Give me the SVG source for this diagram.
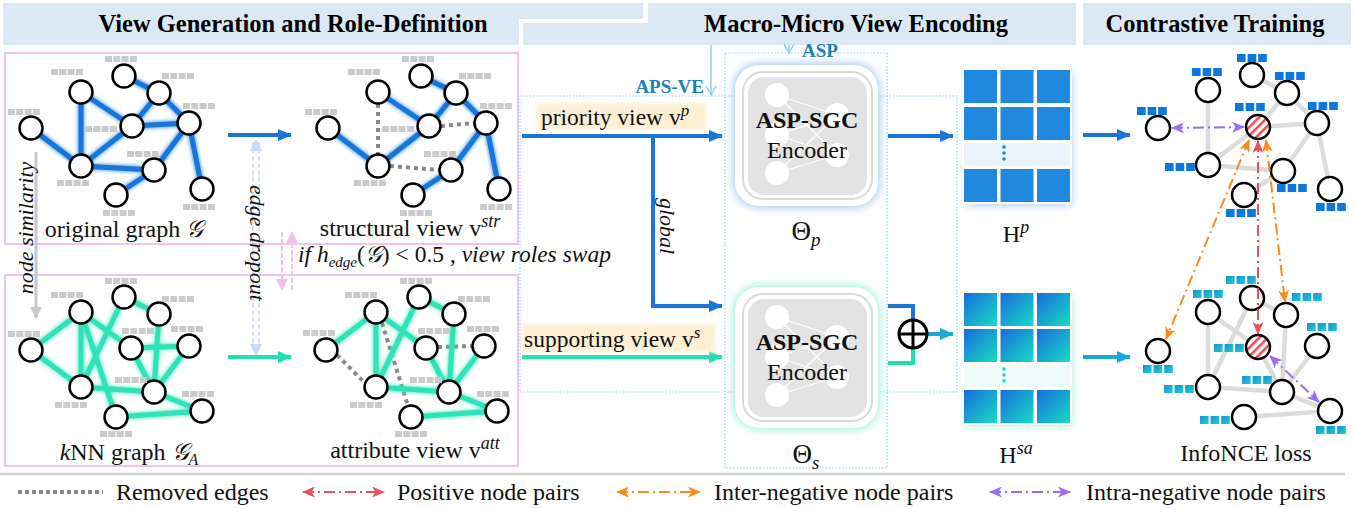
<svg xmlns="http://www.w3.org/2000/svg" width="1354" height="508" viewBox="0 0 1354 508">
<defs>
<style>
text{font-family:"Liberation Serif","Times New Roman",serif;fill:#111}
.hdr{font-size:24.5px;font-weight:bold;text-anchor:middle;fill:#000}
.lbl{font-size:24px;text-anchor:middle}
.leg{font-size:24px}
.it{font-style:italic}
.node{fill:#fff;stroke:#000;stroke-width:2.5}
.eb{stroke:#1976d9;stroke-width:5;stroke-linecap:round;fill:none}
.et{stroke:#2ee3b8;stroke-width:5;stroke-linecap:round;fill:none}
.rm{stroke:#8a8a8a;stroke-width:4;stroke-dasharray:4 4;fill:none}
.eg{stroke:#dcdcdc;stroke-width:4.5;fill:none}
.tag{fill:#cbcbcb}
.tagb{fill:#0a78df}
.panel{fill:none;stroke:#ebc6e8;stroke-width:2}
.dot{fill:none;stroke:#8dd0f0;stroke-width:1.2;stroke-dasharray:1.5 1.8}
.pr{stroke:#e8505b;stroke-width:2;fill:none;stroke-dasharray:11 4 2 4}
.po{stroke:#ff8a1c;stroke-width:2;fill:none;stroke-dasharray:11 4 2 4}
.pp{stroke:#9b6cf5;stroke-width:2;fill:none;stroke-dasharray:11 4 2 4}
</style>
<filter id="glow" x="-10%" y="-10%" width="120%" height="120%"><feGaussianBlur in="SourceGraphic" stdDeviation="2.2" result="b"/><feMerge><feMergeNode in="b"/><feMergeNode in="SourceGraphic"/></feMerge></filter>
<filter id="blur4" x="-20%" y="-20%" width="140%" height="140%"><feGaussianBlur stdDeviation="4"/></filter>
<filter id="blur2" x="-10%" y="-30%" width="120%" height="160%"><feGaussianBlur stdDeviation="2"/></filter>
<pattern id="hatch" width="6" height="6" patternUnits="userSpaceOnUse" patternTransform="rotate(45)"><rect width="6" height="6" fill="#fff"/><rect width="2.6" height="6" fill="#e8505b"/></pattern>
<linearGradient id="gs" x1="0" y1="0" x2="1" y2="1"><stop offset="0" stop-color="#1a6cdc"/><stop offset="1" stop-color="#16dcc2"/></linearGradient>
<linearGradient id="gt" x1="0" y1="0" x2="1" y2="1"><stop offset="0" stop-color="#1b8fdc"/><stop offset="1" stop-color="#1ad0c8"/></linearGradient>
<g id="tag4" class="tag"><rect x="0" y="0" width="7" height="6"/><rect x="8.3" y="0" width="7" height="6"/><rect x="16.6" y="0" width="7" height="6"/><rect x="24.9" y="0" width="7" height="6"/></g>
<g id="tag3b" class="tagb"><rect x="0" y="0" width="8.6" height="8"/><rect x="10.6" y="0" width="8.6" height="8"/><rect x="21.2" y="0" width="8.6" height="8"/></g>
<g id="tag3g" fill="url(#gt)"><rect x="0" y="0" width="8.6" height="8"/><rect x="10.6" y="0" width="8.6" height="8"/><rect x="21.2" y="0" width="8.6" height="8"/></g>
<marker id="aB" markerUnits="userSpaceOnUse" markerWidth="14" markerHeight="12" refX="13" refY="6" orient="auto"><path d="M0,0 L14,6 L0,12 z" fill="#1976d9"/></marker>
<marker id="aT" markerUnits="userSpaceOnUse" markerWidth="14" markerHeight="12" refX="13" refY="6" orient="auto"><path d="M0,0 L14,6 L0,12 z" fill="#20e0b2"/></marker>
<marker id="aC" markerUnits="userSpaceOnUse" markerWidth="14" markerHeight="12" refX="13" refY="6" orient="auto"><path d="M0,0 L14,6 L0,12 z" fill="#1aaad8"/></marker>
<marker id="pR" markerUnits="userSpaceOnUse" markerWidth="13" markerHeight="11" refX="12" refY="5.5" orient="auto-start-reverse"><path d="M0,0 L13,5.5 L0,11 L3.5,5.5 z" fill="#e8505b"/></marker>
<marker id="pO" markerUnits="userSpaceOnUse" markerWidth="13" markerHeight="11" refX="12" refY="5.5" orient="auto-start-reverse"><path d="M0,0 L13,5.5 L0,11 L3.5,5.5 z" fill="#ff8a1c"/></marker>
<marker id="pP" markerUnits="userSpaceOnUse" markerWidth="13" markerHeight="11" refX="12" refY="5.5" orient="auto-start-reverse"><path d="M0,0 L13,5.5 L0,11 L3.5,5.5 z" fill="#9b6cf5"/></marker>
<marker id="chev" markerUnits="userSpaceOnUse" markerWidth="12" markerHeight="12" refX="10" refY="6" orient="auto"><path d="M1,1 L10,6 L1,11" fill="none" stroke="#8dcff0" stroke-width="1.5"/></marker>
<marker id="aPb" markerUnits="userSpaceOnUse" markerWidth="12" markerHeight="12" refX="11" refY="6" orient="auto"><path d="M0,0 L12,6 L0,12 z" fill="#c6dcf2"/></marker>
<marker id="aPk" markerUnits="userSpaceOnUse" markerWidth="12" markerHeight="12" refX="11" refY="6" orient="auto"><path d="M0,0 L12,6 L0,12 z" fill="#f0c3ec"/></marker>
<marker id="aGr" markerUnits="userSpaceOnUse" markerWidth="12" markerHeight="12" refX="11" refY="6" orient="auto"><path d="M0,0 L12,6 L0,12 z" fill="#c8c8c8"/></marker>
</defs>

<rect width="1354" height="508" fill="#fff"/>

<!-- headers -->
<g id="headers">
<path d="M3,3 H643 V19 H519 V45 H3 Z" fill="#dce9f5"/>
<path d="M648,3 H1076 V45 H523 V23 H648 Z" fill="#dce9f5"/>
<rect x="1083" y="3" width="268" height="42" fill="#dce9f5"/>
<text class="hdr" x="293" y="32">View Generation and Role-Definition</text>
<text class="hdr" x="856" y="32">Macro-Micro View Encoding</text>
<text class="hdr" x="1215" y="32">Contrastive Training</text>
</g>

<!-- panels -->
<g id="panels">
<rect class="panel" x="5" y="53" width="513" height="191"/>
<rect class="panel" x="5" y="275" width="513" height="191"/>
<line x1="0" y1="474" x2="1345" y2="474" stroke="#cfcfcf" stroke-width="2.5"/>
</g>

<!-- original graph -->
<g id="original-graph">
<g filter="url(#glow)">
<path class="eb" d="M31,128 L81,166 M81,92 L81,166 M81,92 L132,126 M124,76 L159,93 M159,93 L132,126 M159,93 L189,123 M132,126 L189,123 M132,126 L81,166 M81,166 L154,170 M154,170 L189,123 M154,170 L116,195 M189,123 L202,189"/>
</g>
<g>
<circle class="node" cx="31" cy="128" r="11.5"/><circle class="node" cx="81" cy="92" r="11.5"/><circle class="node" cx="124" cy="76" r="11.5"/><circle class="node" cx="159" cy="93" r="11.5"/><circle class="node" cx="132" cy="126" r="11.5"/><circle class="node" cx="189" cy="123" r="11.5"/><circle class="node" cx="81" cy="166" r="11.5"/><circle class="node" cx="154" cy="170" r="11.5"/><circle class="node" cx="116" cy="195" r="11.5"/><circle class="node" cx="202" cy="189" r="11.5"/>
</g>
<use href="#tag4" x="8" y="109"/><use href="#tag4" x="51" y="69"/><use href="#tag4" x="105" y="56"/><use href="#tag4" x="162" y="73"/><use href="#tag4" x="183" y="103"/><use href="#tag4" x="85" y="126"/><use href="#tag4" x="127" y="151"/><use href="#tag4" x="57" y="180"/><use href="#tag4" x="103" y="210"/><use href="#tag4" x="183" y="204"/>
<text class="lbl" x="124" y="237">original graph <tspan class="it">𝒢</tspan></text>
</g>

<!-- structural view -->
<g id="structural-view">
<path class="rm" d="M378,104 L378,154 M441,126 L474,123 M390,166 L439,170"/>
<g filter="url(#glow)">
<path class="eb" d="M328,128 L378,166 M378,92 L429,126 M421,76 L456,93 M456,93 L429,126 M456,93 L486,123 M429,126 L378,166 M451,170 L486,123 M451,170 L413,195 M486,123 L499,189"/>
</g>
<g>
<circle class="node" cx="328" cy="128" r="11.5"/><circle class="node" cx="378" cy="92" r="11.5"/><circle class="node" cx="421" cy="76" r="11.5"/><circle class="node" cx="456" cy="93" r="11.5"/><circle class="node" cx="429" cy="126" r="11.5"/><circle class="node" cx="486" cy="123" r="11.5"/><circle class="node" cx="378" cy="166" r="11.5"/><circle class="node" cx="451" cy="170" r="11.5"/><circle class="node" cx="413" cy="195" r="11.5"/><circle class="node" cx="499" cy="189" r="11.5"/>
</g>
<use href="#tag4" x="305" y="109"/><use href="#tag4" x="348" y="69"/><use href="#tag4" x="402" y="56"/><use href="#tag4" x="459" y="73"/><use href="#tag4" x="480" y="103"/><use href="#tag4" x="382" y="126"/><use href="#tag4" x="424" y="151"/><use href="#tag4" x="354" y="180"/><use href="#tag4" x="400" y="210"/><use href="#tag4" x="480" y="204"/>
<text class="lbl" x="410" y="236" font-size="25">structural view v<tspan class="it" font-size="18" dy="-9">str</tspan></text>
</g>

<!-- kNN graph -->
<g id="knn-graph">
<g filter="url(#glow)">
<path class="et" d="M31,350 L81,312 M31,350 L81,387 M81,312 L81,387 M81,312 L131,348 M81,312 L116,417 M124,297 L81,387 M124,297 L159,314 M159,314 L154,392 M131,348 L189,346 M131,348 L154,392 M189,346 L154,392 M81,387 L154,392 M154,392 L202,411 M116,417 L202,411"/>
</g>
<g>
<circle class="node" cx="31" cy="350" r="11.5"/><circle class="node" cx="81" cy="312" r="11.5"/><circle class="node" cx="124" cy="297" r="11.5"/><circle class="node" cx="159" cy="314" r="11.5"/><circle class="node" cx="131" cy="348" r="11.5"/><circle class="node" cx="189" cy="346" r="11.5"/><circle class="node" cx="81" cy="387" r="11.5"/><circle class="node" cx="154" cy="392" r="11.5"/><circle class="node" cx="116" cy="417" r="11.5"/><circle class="node" cx="202" cy="411" r="11.5"/>
</g>
<use href="#tag4" x="8" y="331"/><use href="#tag4" x="51" y="292"/><use href="#tag4" x="105" y="278"/><use href="#tag4" x="162" y="296"/><use href="#tag4" x="122" y="328"/><use href="#tag4" x="171" y="326"/><use href="#tag4" x="115" y="377"/><use href="#tag4" x="55" y="402"/><use href="#tag4" x="100" y="431"/><use href="#tag4" x="182" y="391"/>
<text class="lbl" x="129" y="460"><tspan class="it">k</tspan>NN graph <tspan class="it">𝒢</tspan><tspan class="it" font-size="16" dy="5">A</tspan></text>
</g>

<!-- attribute view -->
<g id="attribute-view">
<path class="rm" d="M337,355 L365,383 M382,323 L408,406 M438,347 L472,346"/>
<g filter="url(#glow)">
<path class="et" d="M326,350 L376,312 M376,312 L376,387 M376,312 L426,348 M419,297 L376,387 M419,297 L454,314 M454,314 L449,392 M426,348 L449,392 M484,346 L449,392 M376,387 L449,392 M449,392 L497,411 M411,417 L497,411"/>
</g>
<g>
<circle class="node" cx="326" cy="350" r="11.5"/><circle class="node" cx="376" cy="312" r="11.5"/><circle class="node" cx="419" cy="297" r="11.5"/><circle class="node" cx="454" cy="314" r="11.5"/><circle class="node" cx="426" cy="348" r="11.5"/><circle class="node" cx="484" cy="346" r="11.5"/><circle class="node" cx="376" cy="387" r="11.5"/><circle class="node" cx="449" cy="392" r="11.5"/><circle class="node" cx="411" cy="417" r="11.5"/><circle class="node" cx="497" cy="411" r="11.5"/>
</g>
<use href="#tag4" x="303" y="330"/><use href="#tag4" x="345" y="292"/><use href="#tag4" x="400" y="278"/><use href="#tag4" x="458" y="296"/><use href="#tag4" x="418" y="328"/><use href="#tag4" x="467" y="326"/><use href="#tag4" x="410" y="377"/><use href="#tag4" x="350" y="402"/><use href="#tag4" x="395" y="431"/><use href="#tag4" x="477" y="391"/>
<text class="lbl" x="415" y="458" font-size="25">attribute view v<tspan class="it" font-size="18" dy="-9">att</tspan></text>
</g>

<!-- left-side annotations -->
<g id="annotations">
<line x1="36" y1="152" x2="36" y2="318" stroke="#c8c8c8" stroke-width="3" marker-end="url(#aGr)"/>
<text class="it" font-size="22" transform="translate(25,228) rotate(-90)" text-anchor="middle" dominant-baseline="central">node similarity</text>
<line x1="253" y1="350" x2="253" y2="141" stroke="#c6dcf2" stroke-width="1.5" stroke-dasharray="5 2"/>
<line x1="259" y1="350" x2="259" y2="141" stroke="#c6dcf2" stroke-width="1.5" stroke-dasharray="5 2"/>
<line x1="256" y1="160" x2="256" y2="140" stroke="#c6dcf2" stroke-width="0.1" marker-end="url(#aPb)"/>
<line x1="256" y1="335" x2="256" y2="355" stroke="#c6dcf2" stroke-width="0.1" marker-end="url(#aPb)"/>
<text class="it" font-size="22" transform="translate(257,243) rotate(90)" text-anchor="middle" dominant-baseline="central">edge dropout</text>
<line x1="292" y1="290" x2="292" y2="232" stroke="#f0c3ec" stroke-width="2" stroke-dasharray="5 2" marker-end="url(#aPk)"/>
<line x1="282" y1="232" x2="282" y2="290" stroke="#f0c3ec" stroke-width="2" stroke-dasharray="5 2" marker-end="url(#aPk)"/>
<text font-size="23.5" x="298" y="262"><tspan class="it">if </tspan><tspan class="it">h</tspan><tspan class="it" font-size="15" dy="5">edge</tspan><tspan dy="-5">(</tspan><tspan class="it">𝒢</tspan>) &lt; 0.5 , <tspan class="it">view roles swap</tspan></text>
</g>

<!-- connectors -->
<g id="connectors">
<line x1="228" y1="135" x2="291" y2="135" stroke="#1976d9" stroke-width="4" marker-end="url(#aB)"/>
<line x1="228" y1="357" x2="291" y2="357" stroke="#20e0b2" stroke-width="4" marker-end="url(#aT)"/>
<line x1="522" y1="136" x2="722" y2="136" stroke="#1976d9" stroke-width="4" marker-end="url(#aB)"/>
<path d="M653,136 V306 H722" fill="none" stroke="#1976d9" stroke-width="4" marker-end="url(#aB)"/>
<line x1="522" y1="357" x2="722" y2="357" stroke="#20e0b2" stroke-width="4" marker-end="url(#aT)"/>
<line x1="888" y1="136" x2="953" y2="136" stroke="#1976d9" stroke-width="4" marker-end="url(#aB)"/>
<path d="M888,306 H913 V320" fill="none" stroke="#1976d9" stroke-width="4"/>
<path d="M888,363 H913 V348" fill="none" stroke="#20e0b2" stroke-width="4"/>
<line x1="927" y1="334" x2="953" y2="334" stroke="#1aaad8" stroke-width="4" marker-end="url(#aC)"/>
<line x1="1083" y1="135" x2="1130" y2="135" stroke="#1976d9" stroke-width="4" marker-end="url(#aB)"/>
<line x1="1083" y1="357" x2="1130" y2="357" stroke="#1aaad8" stroke-width="4" marker-end="url(#aC)"/>
<line x1="711" y1="45" x2="711" y2="95" stroke="#8dcff0" stroke-width="1.5" marker-end="url(#chev)"/>
<line x1="789" y1="45" x2="789" y2="53" stroke="#8dcff0" stroke-width="1.5" marker-end="url(#chev)"/>
</g>

<!-- middle: view labels and boxes -->
<g id="aps-ve">
<rect class="dot" x="520" y="96" width="437" height="296"/>
<text x="704" y="93" font-size="19" font-weight="bold" text-anchor="end" style="fill:#1a80b5">APS-VE</text>
</g>
<g id="asp">
<rect class="dot" x="725" y="53" width="162" height="415"/>
<text x="802" y="57" font-size="19" font-weight="bold" style="fill:#1a80b5">ASP</text>
</g>
<g id="priority-view">
<rect x="537" y="103" width="170" height="27" fill="#fcefd4" filter="url(#blur2)"/>
<text font-size="23.5" x="541" y="125">priority view v<tspan class="it" font-size="17" dy="-9">p</tspan></text>
</g>
<g id="supporting-view">
<rect x="522" y="324" width="193" height="28" fill="#fcefd4" filter="url(#blur2)"/>
<text font-size="23.5" x="524" y="347">supporting view v<tspan class="it" font-size="17" dy="-9">s</tspan></text>
</g>
<text class="it" font-size="22" transform="translate(667,226) rotate(90)" text-anchor="middle" dominant-baseline="central">global</text>

<!-- encoder p -->
<g id="encoder-p">
<rect x="733" y="63" width="147" height="145" rx="26" fill="#a9cdf3" filter="url(#blur4)"/>
<rect x="735" y="65" width="143" height="141" rx="24" fill="#fff"/>
<rect x="743" y="72" width="129" height="127" rx="20" fill="none" stroke="#dadada" stroke-width="2"/>
<rect x="748" y="77" width="119" height="118" rx="16" fill="#e3e3e3"/>
<path d="M777,95 L837,115 M777,95 L837,155 M777,135 L837,115 M777,135 L837,155 M777,173 L837,115 M777,173 L837,155" stroke="#fff" stroke-width="1.3"/>
<circle cx="777" cy="95" r="12" fill="#fff"/><circle cx="777" cy="135" r="12" fill="#fff"/><circle cx="777" cy="173" r="12" fill="#fff"/><circle cx="837" cy="115" r="12" fill="#fff"/><circle cx="837" cy="155" r="12" fill="#fff"/>
<text x="807" y="128" font-size="24" font-weight="bold" text-anchor="middle">ASP-SGC</text>
<text x="807" y="158" font-size="24" text-anchor="middle">Encoder</text>
<text x="806" y="240" font-size="27" text-anchor="middle">Θ<tspan class="it" font-size="19" dy="6">p</tspan></text>
</g>

<!-- encoder s -->
<g id="encoder-s">
<rect x="733" y="285" width="147" height="145" rx="26" fill="#a6f0dc" filter="url(#blur4)"/>
<rect x="735" y="287" width="143" height="141" rx="24" fill="#fff"/>
<rect x="743" y="294" width="129" height="127" rx="20" fill="none" stroke="#dadada" stroke-width="2"/>
<rect x="748" y="299" width="119" height="118" rx="16" fill="#e3e3e3"/>
<path d="M777,317 L837,337 M777,317 L837,377 M777,357 L837,337 M777,357 L837,377 M777,395 L837,337 M777,395 L837,377" stroke="#fff" stroke-width="1.3"/>
<circle cx="777" cy="317" r="12" fill="#fff"/><circle cx="777" cy="357" r="12" fill="#fff"/><circle cx="777" cy="395" r="12" fill="#fff"/><circle cx="837" cy="337" r="12" fill="#fff"/><circle cx="837" cy="377" r="12" fill="#fff"/>
<text x="807" y="350" font-size="24" font-weight="bold" text-anchor="middle">ASP-SGC</text>
<text x="807" y="380" font-size="24" text-anchor="middle">Encoder</text>
<text x="806" y="463" font-size="27" text-anchor="middle">Θ<tspan class="it" font-size="19" dy="6">s</tspan></text>
</g>

<!-- concat -->
<g id="concat">
<circle cx="913" cy="334" r="14" fill="#fff" stroke="#000" stroke-width="3"/>
<path d="M899,334 H927 M913,320 V348" stroke="#000" stroke-width="3"/>
</g>

<!-- Hp -->
<g id="Hp">
<rect x="966" y="73" width="106" height="132" fill="#a9c9f0" filter="url(#blur4)"/>
<rect x="962" y="68" width="110" height="136" fill="#fff"/>
<g fill="#2188e0">
<rect x="964" y="70" width="33" height="33"/><rect x="1000.5" y="70" width="33" height="33"/><rect x="1037" y="70" width="33" height="33"/>
<rect x="964" y="107" width="33" height="33"/><rect x="1000.5" y="107" width="33" height="33"/><rect x="1037" y="107" width="33" height="33"/>
<rect x="964" y="169" width="33" height="33"/><rect x="1000.5" y="169" width="33" height="33"/><rect x="1037" y="169" width="33" height="33"/>
</g>
<rect x="964" y="143" width="106" height="23" fill="#eaf3fc"/>
<g fill="#2188e0"><circle cx="1004" cy="147" r="1.8"/><circle cx="1004" cy="153" r="1.8"/><circle cx="1004" cy="159" r="1.8"/></g>
<text x="1016" y="242" font-size="24" text-anchor="middle">H<tspan class="it" font-size="18" dy="-9">p</tspan></text>
</g>

<!-- Hsa -->
<g id="Hsa">
<rect x="966" y="296" width="106" height="130" fill="#a6f0de" filter="url(#blur4)"/>
<rect x="962" y="291" width="110" height="134" fill="#fff"/>
<g fill="url(#gs)">
<rect x="964" y="293" width="33" height="33"/><rect x="1000.5" y="293" width="33" height="33"/><rect x="1037" y="293" width="33" height="33"/>
<rect x="964" y="329" width="33" height="33"/><rect x="1000.5" y="329" width="33" height="33"/><rect x="1037" y="329" width="33" height="33"/>
<rect x="964" y="390" width="33" height="33"/><rect x="1000.5" y="390" width="33" height="33"/><rect x="1037" y="390" width="33" height="33"/>
</g>
<rect x="964" y="365" width="106" height="22" fill="#eefbf8"/>
<g fill="#22d8c0"><circle cx="1004" cy="369" r="1.8"/><circle cx="1004" cy="375" r="1.8"/><circle cx="1004" cy="381" r="1.8"/></g>
<text x="1016" y="463" font-size="24" text-anchor="middle">H<tspan class="it" font-size="18" dy="-9">sa</tspan></text>
</g>

<!-- contrastive top graph -->
<g id="contrast-top">
<path class="eg" d="M1208,90 L1208,165 M1252,75 L1287,93 M1287,93 L1258,127 M1287,93 L1317,123 M1258,127 L1317,123 M1258,127 L1208,165 M1208,165 L1283,171 M1283,171 L1317,123 M1283,171 L1244,195 M1317,123 L1330,189"/>
<circle class="node" cx="1158" cy="128" r="12"/><circle class="node" cx="1208" cy="90" r="12"/><circle class="node" cx="1252" cy="75" r="12"/><circle class="node" cx="1287" cy="93" r="12"/><circle class="node" cx="1258" cy="127" r="12" style="fill:url(#hatch)"/><circle class="node" cx="1317" cy="123" r="12"/><circle class="node" cx="1208" cy="165" r="12"/><circle class="node" cx="1283" cy="171" r="12"/><circle class="node" cx="1244" cy="195" r="12"/><circle class="node" cx="1330" cy="189" r="12"/>
<use href="#tag3b" x="1137" y="107"/><use href="#tag3b" x="1192" y="68"/><use href="#tag3b" x="1237" y="54"/><use href="#tag3b" x="1275" y="72"/><use href="#tag3b" x="1235" y="103"/><use href="#tag3b" x="1308" y="102"/><use href="#tag3b" x="1165" y="163"/><use href="#tag3b" x="1277" y="184"/><use href="#tag3b" x="1226" y="209"/><use href="#tag3b" x="1316" y="203"/>
</g>

<!-- contrastive bottom graph -->
<g id="contrast-bottom">
<path class="eg" d="M1208,312 L1208,387 M1208,312 L1258,347 M1252,298 L1208,387 M1252,298 L1286,315 M1286,315 L1282,392 M1258,347 L1282,392 M1317,346 L1282,392 M1208,387 L1282,392 M1282,392 L1330,411 M1244,417 L1330,411"/>
<circle class="node" cx="1158" cy="351" r="12"/><circle class="node" cx="1208" cy="312" r="12"/><circle class="node" cx="1252" cy="298" r="12"/><circle class="node" cx="1286" cy="315" r="12"/><circle class="node" cx="1258" cy="347" r="12" style="fill:url(#hatch)"/><circle class="node" cx="1317" cy="346" r="12"/><circle class="node" cx="1208" cy="387" r="12"/><circle class="node" cx="1282" cy="392" r="12"/><circle class="node" cx="1244" cy="417" r="12"/><circle class="node" cx="1330" cy="411" r="12"/>
<use href="#tag3g" x="1143" y="365"/><use href="#tag3g" x="1193" y="290"/><use href="#tag3g" x="1226" y="276"/><use href="#tag3g" x="1292" y="293"/><use href="#tag3g" x="1214" y="344"/><use href="#tag3g" x="1307" y="323"/><use href="#tag3g" x="1242" y="376"/><use href="#tag3g" x="1164" y="385"/><use href="#tag3g" x="1200" y="416"/><use href="#tag3g" x="1316" y="426"/>
<text class="lbl" x="1246" y="461">InfoNCE loss</text>
</g>

<!-- node pair arrows -->
<g id="pair-arrows">
<line class="pp" x1="1172" y1="128" x2="1244" y2="127" marker-start="url(#pP)" marker-end="url(#pP)"/>
<line class="pr" x1="1258" y1="141" x2="1258" y2="334" marker-start="url(#pR)" marker-end="url(#pR)"/>
<line class="po" x1="1249" y1="140" x2="1166" y2="339" marker-start="url(#pO)" marker-end="url(#pO)"/>
<line class="po" x1="1266" y1="140" x2="1285" y2="302" marker-start="url(#pO)" marker-end="url(#pO)"/>
<line class="pp" x1="1270" y1="356" x2="1319" y2="402" marker-start="url(#pP)" marker-end="url(#pP)"/>
</g>

<!-- legend -->
<g id="legend">
<line x1="18" y1="492" x2="103" y2="492" stroke="#8a8a8a" stroke-width="4" stroke-dasharray="4 3"/>
<text class="leg" x="116" y="500">Removed edges</text>
<line class="pr" x1="303" y1="492" x2="384" y2="492" marker-start="url(#pR)" marker-end="url(#pR)"/>
<text class="leg" x="397" y="500">Positive node pairs</text>
<line class="po" x1="617" y1="492" x2="700" y2="492" marker-start="url(#pO)" marker-end="url(#pO)"/>
<text class="leg" x="714" y="500">Inter-negative node pairs</text>
<line class="pp" x1="990" y1="492" x2="1070" y2="492" marker-start="url(#pP)" marker-end="url(#pP)"/>
<text class="leg" x="1086" y="500">Intra-negative node pairs</text>
</g>
</svg>
